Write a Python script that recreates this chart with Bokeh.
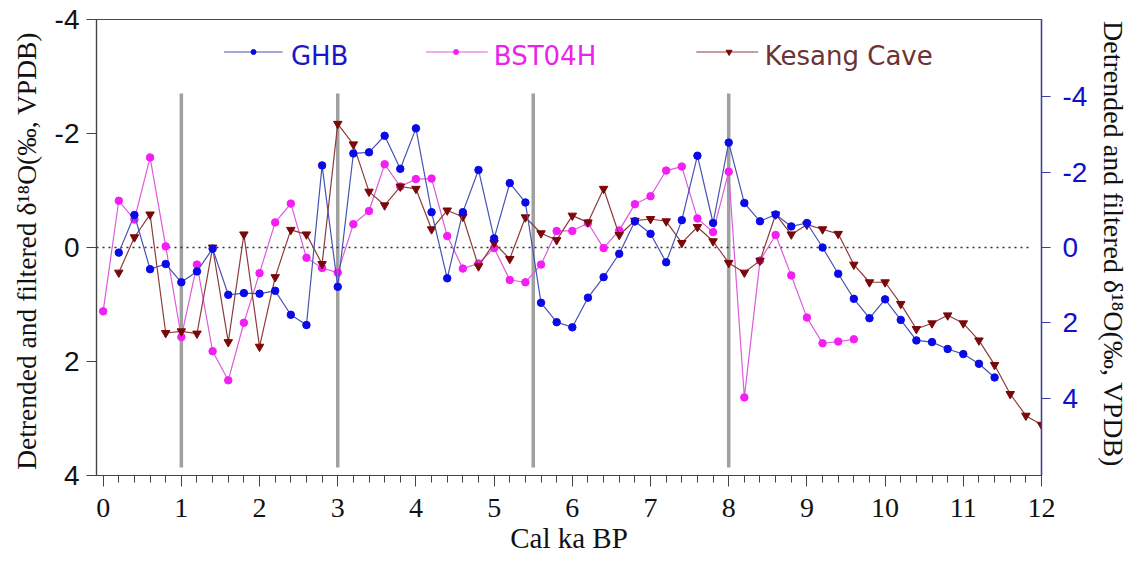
from bokeh.plotting import figure
from bokeh.models import (Range1d, LinearAxis, FixedTicker, ColumnDataSource,
                          PrintfTickFormatter)
from bokeh.core.properties import value
from bokeh.embed import file_html
from bokeh.resources import INLINE

# ---- records: age (cal ka BP) and detrended / filtered d18O (permil, VPDB) ----
ghb_age = [0.2, 0.4, 0.6, 0.8, 1.0, 1.2, 1.4, 1.6, 1.8, 2.0, 2.2, 2.4, 2.6, 2.8,
           3.0, 3.2, 3.4, 3.6, 3.8, 4.0, 4.2, 4.4, 4.6, 4.8, 5.0, 5.2, 5.4, 5.6,
           5.8, 6.0, 6.2, 6.4, 6.6, 6.8, 7.0, 7.2, 7.4, 7.6, 7.8, 8.0, 8.2, 8.4,
           8.6, 8.8, 9.0, 9.2, 9.4, 9.6, 9.8, 10.0, 10.2, 10.4, 10.6, 10.8, 11.0,
           11.2, 11.4]
ghb_d18o = [0.09, -0.57, 0.38, 0.29, 0.61, 0.42, 0.02, 0.83, 0.80, 0.81, 0.76,
            1.18, 1.36, -1.44, 0.69, -1.65, -1.67, -1.96, -1.38, -2.09, -0.62,
            0.54, -0.62, -1.36, -0.16, -1.13, -0.79, 0.97, 1.31, 1.40, 0.88,
            0.52, 0.11, -0.46, -0.24, 0.26, -0.48, -1.61, -0.43, -1.84, -0.78,
            -0.46, -0.58, -0.37, -0.43, 0.00, 0.46, 0.90, 1.24, 0.91, 1.27,
            1.63, 1.66, 1.78, 1.87, 2.04, 2.28]

bst_age = [0.0, 0.2, 0.4, 0.6, 0.8, 1.0, 1.2, 1.4, 1.6, 1.8, 2.0, 2.2, 2.4, 2.6,
           2.8, 3.0, 3.2, 3.4, 3.6, 3.8, 4.0, 4.2, 4.4, 4.6, 4.8, 5.0, 5.2, 5.4,
           5.6, 5.8, 6.0, 6.2, 6.4, 6.6, 6.8, 7.0, 7.2, 7.4, 7.6, 7.8, 8.0, 8.2,
           8.4, 8.6, 8.8, 9.0, 9.2, 9.4, 9.6]
bst_d18o = [1.12, -0.82, -0.49, -1.58, -0.02, 1.57, 0.30, 1.82, 2.33, 1.32,
            0.45, -0.44, -0.77, 0.18, 0.36, 0.44, -0.41, -0.64, -1.46, -1.07,
            -1.20, -1.21, -0.20, 0.37, 0.28, 0.01, 0.57, 0.61, 0.30, -0.29,
            -0.29, -0.43, 0.01, -0.30, -0.76, -0.90, -1.35, -1.42, -0.51, -0.27,
            -1.33, 2.63, 0.23, -0.22, 0.49, 1.23, 1.68, 1.65, 1.61]

kes_age = [0.2, 0.4, 0.6, 0.8, 1.0, 1.2, 1.4, 1.6, 1.8, 2.0, 2.2, 2.4, 2.6, 2.8,
           3.0, 3.2, 3.4, 3.6, 3.8, 4.0, 4.2, 4.4, 4.6, 4.8, 5.0, 5.2, 5.4, 5.6,
           5.8, 6.0, 6.2, 6.4, 6.6, 6.8, 7.0, 7.2, 7.4, 7.6, 7.8, 8.0, 8.2, 8.4,
           8.6, 8.8, 9.0, 9.2, 9.4, 9.6, 9.8, 10.0, 10.2, 10.4, 10.6, 10.8, 11.0,
           11.2, 11.4, 11.6, 11.8, 12.0]
kes_d18o = [0.44, -0.18, -0.58, 1.50, 1.47, 1.51, 0.00, 1.66, -0.23, 1.74,
            0.52, -0.31, -0.23, 0.29, -2.17, -1.81, -0.98, -0.74, -1.07, -1.03,
            -0.32, -0.65, -0.54, 0.33, -0.08, 0.20, -0.53, -0.25, -0.13, -0.56,
            -0.44, -1.03, -0.22, -0.47, -0.50, -0.46, -0.08, -0.36, -0.11, 0.27,
            0.44, 0.23, -0.58, -0.23, -0.40, -0.32, -0.24, 0.30, 0.61, 0.61,
            0.99, 1.43, 1.33, 1.19, 1.33, 1.63, 2.06, 2.57, 2.95, 3.11]

# boundaries of the climatic stages (ka)
event_ages = [1.0, 3.0, 5.5, 8.0]

# axis ticks
x_ticks = [0, 1, 2, 3, 4, 5, 6, 7, 8, 9, 10, 11, 12]
y_ticks = [-4, -2, 0, 2, 4]

series_names = ["GHB", "BST04H", "Kesang Cave"]
line_colors = ["#4653b3", "#dc5cdc", "#8c3c3c"]
mark_colors = ["#0a0ae8", "#f41ef4", "#7a0808"]
text_colors = ["#1818c8", "#ea22ea", "#6e3232"]

SERIF = "Liberation Serif"
SANS = "Liberation Sans"
YLABEL = "Detrended and  filtered \u03b4\u00b9\u2078O(\u2030, VPDB)"

p = figure(width=1139, height=563,
           x_range=Range1d(-0.085, 12.0), y_range=Range1d(4.0, -4.0),
           output_backend="svg", toolbar_location=None,
           min_border_left=96, min_border_right=98,
           min_border_top=19, min_border_bottom=88,
           background_fill_color="white", border_fill_color="white")
p.xgrid.visible = False
p.ygrid.visible = False
p.outline_line_color = "#4a4a4a"
p.outline_line_width = 1.2

# second (right-hand) scale
p.extra_y_ranges = {"right": Range1d(6.04, -6.04)}

# ---- bottom axis ----
xa = p.xaxis[0]
xa.ticker = FixedTicker(ticks=x_ticks,
                        minor_ticks=[i / 5 for i in range(0, 61)])
xa.axis_label = "Cal ka BP"
xa.axis_label_text_font = SERIF
xa.axis_label_text_font_size = "29px"
xa.axis_label_text_font_style = "normal"
xa.axis_label_text_color = "#111111"
xa.axis_label_standoff = 2
xa.major_label_text_font = SERIF
xa.major_label_text_font_size = "28px"
xa.major_label_text_color = "#111111"
xa.major_label_standoff = 12
xa.axis_line_color = "#444444"
xa.axis_line_width = 1.2
xa.major_tick_line_color = "#444444"
xa.minor_tick_line_color = "#444444"
xa.major_tick_in = 0
xa.major_tick_out = 11
xa.minor_tick_in = 0
xa.minor_tick_out = 7

# ---- left axis ----
ya = p.yaxis[0]
ya.ticker = FixedTicker(ticks=y_ticks)
ya.formatter = PrintfTickFormatter(format="%d")
ya.axis_label = YLABEL
ya.axis_label_text_font = SERIF
ya.axis_label_text_font_size = "27.5px"
ya.axis_label_text_font_style = "normal"
ya.axis_label_text_color = "#111111"
ya.axis_label_standoff = 10
ya.major_label_text_font = SANS
ya.major_label_text_font_size = "28px"
ya.major_label_text_color = "#111111"
ya.major_label_standoff = 7
ya.axis_line_color = "#444444"
ya.axis_line_width = 1.2
ya.major_tick_line_color = "#444444"
ya.major_tick_in = 0
ya.major_tick_out = 10
ya.minor_tick_line_color = None

# ---- right axis ----
ra = LinearAxis(y_range_name="right", ticker=FixedTicker(ticks=y_ticks),
                formatter=PrintfTickFormatter(format="%d"))
ra.axis_label = YLABEL
ra.axis_label_text_font = SERIF
ra.axis_label_text_font_size = "28px"
ra.axis_label_text_font_style = "normal"
ra.axis_label_text_color = "#111111"
ra.axis_label_standoff = 8
ra.major_label_text_font = SANS
ra.major_label_text_font_size = "28px"
ra.major_label_text_color = "#1010cc"
ra.major_label_standoff = 12
ra.axis_line_color = "#3a3ab0"
ra.axis_line_width = 1.4
ra.major_tick_line_color = "#3a3ab0"
ra.major_tick_in = 0
ra.major_tick_out = 9
ra.minor_tick_line_color = None
p.add_layout(ra, "right")

# ---- stage boundaries and zero reference ----
p.segment(x0=event_ages, y0=[-2.70] * len(event_ages),
          x1=event_ages, y1=[3.86] * len(event_ages),
          line_color="#a0a0a0", line_width=3.5)
p.line(x=[-0.085, 11.88], y=[0, 0], line_color="#333333",
       line_width=1.6, line_dash="2 4")

# ---- records ----
bst = ColumnDataSource(dict(x=bst_age, y=bst_d18o))
kes = ColumnDataSource(dict(x=kes_age, y=kes_d18o))
ghb = ColumnDataSource(dict(x=ghb_age, y=ghb_d18o))

p.line("x", "y", source=bst, line_color=line_colors[1], line_width=1.2)
p.scatter("x", "y", source=bst, marker="circle", size=7.5,
          fill_color=mark_colors[1], line_color=mark_colors[1])

p.line("x", "y", source=kes, line_color=line_colors[2], line_width=1.2)
p.scatter("x", "y", source=kes, marker="inverted_triangle", size=8.5,
          fill_color=mark_colors[2], line_color=mark_colors[2])

p.line("x", "y", source=ghb, line_color=line_colors[0], line_width=1.2)
p.scatter("x", "y", source=ghb, marker="circle", size=7.5,
          fill_color=mark_colors[0], line_color=mark_colors[0])

# ---- legend row across the top ----
leg_x0 = [1.547, 4.129, 7.586]
leg_x1 = [2.294, 4.919, 8.376]
leg_xm = [1.923, 4.513, 8.005]
leg_xt = [2.401, 4.996, 8.461]
leg_y_line = -3.43
leg_y_text = -3.358

p.segment(x0=leg_x0, y0=[leg_y_line] * 3, x1=leg_x1, y1=[leg_y_line] * 3,
          line_color=line_colors, line_width=1.2)
p.scatter(x=leg_xm[:2], y=[leg_y_line] * 2, marker="circle", size=5,
          fill_color=mark_colors[:2], line_color=mark_colors[:2])
p.scatter(x=leg_xm[2:], y=[leg_y_line], marker="inverted_triangle", size=6,
          fill_color=mark_colors[2], line_color=mark_colors[2])
leg_src = ColumnDataSource(dict(x=leg_xt, y=[leg_y_text] * 3,
                                t=series_names, c=text_colors))
p.text(x="x", y="y", text="t", source=leg_src, text_color="c",
       text_font=value("DejaVu Sans"), text_font_size="26px",
       text_baseline="alphabetic", text_align="left")

open("out.html", "w").write(file_html(p, INLINE))
